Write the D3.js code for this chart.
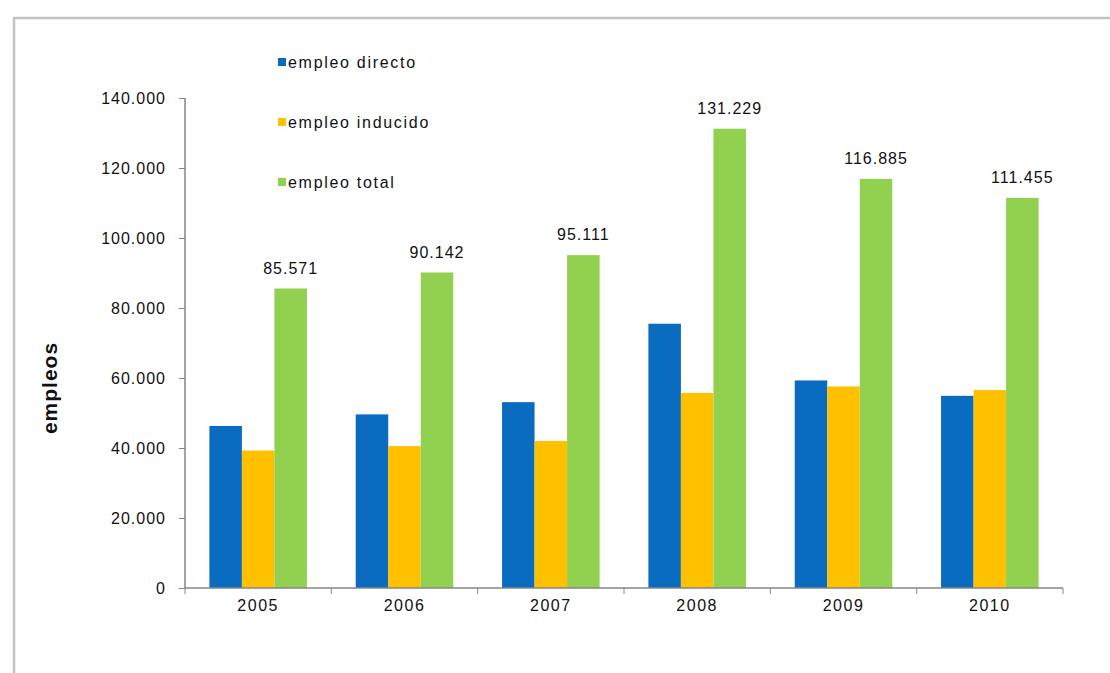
<!DOCTYPE html>
<html>
<head>
  <meta charset="utf-8">
  <script src="https://d3js.org/d3.v7.min.js"></script>
  <style>
    body { margin: 0; background: #fff; }
    text { font-family: "Liberation Sans", Arial, sans-serif; fill: #111; }
  </style>
</head>
<body>
<svg id="chart"></svg>
<script>
  var width = 1110;
  var height = 673;

  // data
  var years = ["2005", "2006", "2007", "2008", "2009", "2010"];
  var series = ["empleo directo", "empleo inducido", "empleo total"];
  var directo = [46300, 49600, 53100, 75500, 59300, 54900];
  var inducido = [39271, 40542, 42011, 55729, 57585, 56555];
  var total = [85571, 90142, 95111, 131229, 116885, 111455];
  var yTicks = [0, 20000, 40000, 60000, 80000, 100000, 120000, 140000];
  var colors = ["#0A6CC0", "#FFC000", "#92D050"];

  var svg = d3.select("#chart")
    .attr("width", width)
    .attr("height", height);

  // outer frame (cut off at right and bottom, as in the source image)
  svg.append("rect")
    .attr("x", 14).attr("y", 18)
    .attr("width", width).attr("height", height)
    .attr("fill", "none")
    .attr("stroke", "#c4c4c4")
    .attr("stroke-width", 2.5);

  var margin = {left: 185, right: 1063, top: 98, bottom: 588};

  var x = d3.scaleBand()
    .domain(years)
    .range([margin.left, margin.right]);

  var x1 = d3.scaleBand()
    .domain(series)
    .range([0, x.bandwidth()])
    .paddingOuter(0.75)
    .paddingInner(0);

  var y = d3.scaleLinear()
    .domain([0, 140000])
    .range([margin.bottom, margin.top]);

  var fmt = function(v) { return d3.format(",")(v).replace(/,/g, "."); };

  var rows = years.map(function(yr, i) {
    return {year: yr, values: [directo[i], inducido[i], total[i]]};
  });

  var g = svg.append("g");

  var groups = g.selectAll("g.year")
    .data(rows).enter()
    .append("g")
    .attr("class", "year")
    .attr("transform", d => "translate(" + x(d.year) + ",0)");

  groups.selectAll("rect")
    .data(d => d.values.map((v, k) => ({key: series[k], value: v, k: k})))
    .enter()
    .append("rect")
    .attr("x", d => x1(d.key))
    .attr("y", d => y(d.value))
    .attr("width", x1.bandwidth())
    .attr("height", d => y(0) - y(d.value))
    .attr("fill", d => colors[d.k]);

  // labels over the total bars
  groups.append("text")
    .attr("x", x1("empleo total") + x1.bandwidth() / 2)
    .attr("y", d => y(d.values[2]) - 15)
    .attr("text-anchor", "middle")
    .style("font-size", "16px")
    .style("letter-spacing", "1px")
    .text(d => fmt(d.values[2]));

  // y axis
  var yAxis = d3.axisLeft(y)
    .tickValues(yTicks)
    .tickSize(6)
    .tickFormat(fmt);

  var ya = svg.append("g")
    .attr("transform", "translate(" + margin.left + ",0)")
    .call(yAxis);
  ya.selectAll("text")
    .style("font-size", "16px")
    .style("letter-spacing", "1px")
    .attr("x", -19).attr("fill", "#111");

  // x axis: ticks sit between the categories
  var xa = svg.append("g")
    .attr("transform", "translate(0," + margin.bottom + ")")
    .call(d3.axisBottom(x).tickSize(0).tickPadding(12));
  xa.selectAll("text")
    .style("font-size", "16px")
    .style("letter-spacing", "1.5px")
    .attr("fill", "#111");
  xa.selectAll(".tick-sep")
    .data(d3.range(years.length + 1)).enter()
    .append("line")
    .attr("x1", i => margin.left + i * x.step())
    .attr("x2", i => margin.left + i * x.step())
    .attr("y1", 0).attr("y2", 6)
    .attr("stroke", "#868686");

  svg.selectAll(".domain").attr("stroke", "#868686").attr("stroke-width", 1.5);
  svg.selectAll(".tick line").attr("stroke", "#868686");
  ya.select(".domain").attr("d", "M0," + margin.bottom + "V" + margin.top);
  xa.select(".domain").attr("d", "M" + margin.left + ",0H" + margin.right);

  // y title
  svg.append("text")
    .attr("transform", "translate(57,388) rotate(-90)")
    .attr("text-anchor", "middle")
    .style("font-size", "21px")
    .style("font-weight", "bold")
    .style("letter-spacing", "1px")
    .text("empleos");

  // legend
  var legend = svg.append("g").selectAll("g")
    .data(series).enter()
    .append("g")
    .attr("transform", (d, i) => "translate(278," + (62 + i * 60) + ")");
  legend.append("rect")
    .attr("x", 0).attr("y", -4)
    .attr("width", 8).attr("height", 8)
    .attr("fill", (d, i) => colors[i]);
  legend.append("text")
    .attr("x", 10).attr("y", 6)
    .style("font-size", "16px")
    .style("letter-spacing", "1.7px")
    .text(d => d);
</script>
</body>
</html>
